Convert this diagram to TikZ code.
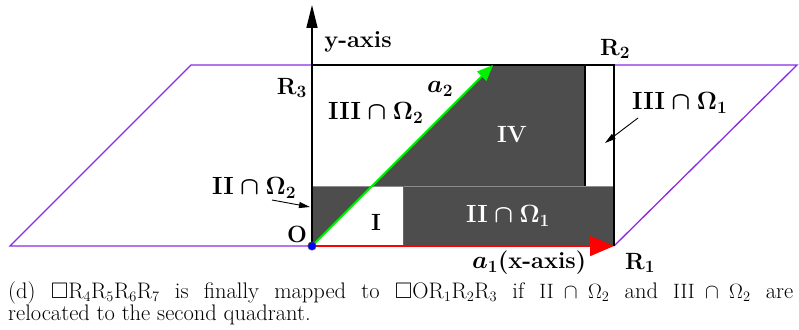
\documentclass[tikz,border=0pt]{standalone}
\usepackage{amssymb}
\usetikzlibrary{arrows.meta}
\definecolor{pur}{HTML}{8A2BE2}
\definecolor{dk}{HTML}{4D4D4D}
\definecolor{grn}{HTML}{00F000}
\begin{document}
\begin{tikzpicture}[x=1pt,y=-1pt,
  lab/.style={font=\fontsize{23.5}{26}\selectfont\bfseries\boldmath, inner sep=0pt},
  capt/.style={font=\fontsize{22.5}{22}\selectfont, inner sep=0pt, text width=785pt, align=justify},
  purline/.style={pur, line width=1.3pt},
  edge/.style={black, line width=1.3pt},
  pointer/.style={black, line width=0.9pt, -{Triangle[length=11pt,width=6pt]}}]
\useasboundingbox (0,0) rectangle (799,329);
% key points
\coordinate (O) at (312,246);
\coordinate (R1) at (614,246);
\coordinate (R2) at (614,65);
\coordinate (R3) at (312,65);
\coordinate (P1) at (10,246);
\coordinate (P2) at (191,65);
\coordinate (P3) at (797,65);
\coordinate (A2) at (493,65);
\coordinate (Yt) at (312,5);
\coordinate (D1) at (372,186);
\coordinate (D2) at (403,186);
\coordinate (D3) at (585,186);
\coordinate (D4) at (585,65);
\coordinate (D5) at (403,246);
\coordinate (D6) at (312,186);
\coordinate (D7) at (614,186);
% dark regions
\fill[dk] (D6) -- (D1) -- (O) -- cycle;
\fill[dk] (D1) -- (A2) -- (D4) -- (D3) -- cycle;
\fill[dk] (D2) rectangle (R1);
% inner lines
\draw[black!45, line width=1pt] (D6) -- (D7);
\draw[black!60, line width=1pt] (D2) -- (D5);
\draw[edge] (D4) -- (D3);
% parallelogram
\draw[purline] (O) -- (P1) -- (P2) -- (R3);
\draw[purline] (R2) -- (P3) -- (R1);
\draw[edge] (R3) -- (R2) -- (R1);
% axes and vectors
\draw[black, line width=1.4pt, -{Triangle[length=23pt,width=11pt]}] (O) -- (Yt);
\draw[grn, line width=1.8pt, -{Triangle[length=16pt,width=13pt]}] (O) -- (A2);
\draw[red, line width=2pt, -{Triangle[length=24pt,width=20pt]}] (O) -- (R1);
\filldraw[fill=blue, draw=black!70, line width=0.6pt] (O) circle (4.2pt);
% labels
\node[lab] (ylab) at (358,42) {y-axis};
\node[lab, anchor=east] (r3) at (307,88) {R$_3$};
\node[lab] (r2) at (615,49) {R$_2$};
\node[lab] (r1) at (640,263) {R$_1$};
\node[lab, anchor=west] (l3o2) at (328,113) {$\mathrm{III}\cap\Omega_2$};
\node[lab] (a2) at (440,89) {$a_2$};
\node[lab, white] (iv) at (512,135) {IV};
\node[lab, anchor=west] (l3o1) at (632,103) {$\mathrm{III}\cap\Omega_1$};
\node[lab, anchor=west] (l2o2) at (212,188) {$\mathrm{II}\cap\Omega_2$};
\node[lab] (one) at (376,222) {I};
\node[lab] (o) at (297,234) {O};
\node[lab, white] (l2o1) at (508,216) {$\mathrm{II}\cap\Omega_1$};
\node[lab, anchor=west] (a1) at (472,263) {$a_1$(x-axis)};
% pointers
\coordinate (p1s) at (638,118);
\coordinate (p1e) at (605,143);
\coordinate (p2s) at (272,200);
\coordinate (p2e) at (310,207);
\draw[pointer] (p1s) -- (p1e);
\draw[pointer] (p2s) -- (p2e);
% caption
\node[capt, anchor=north west] (cap) at (8,281) {(d) $\square$R$_4$R$_5$R$_6$R$_7$ is finally mapped to $\square$OR$_1$R$_2$R$_3$ if $\mathrm{II}\cap\Omega_2$ and $\mathrm{III}\cap\Omega_2$ are\linebreak relocated to the second quadrant.};
\end{tikzpicture}
\end{document}
